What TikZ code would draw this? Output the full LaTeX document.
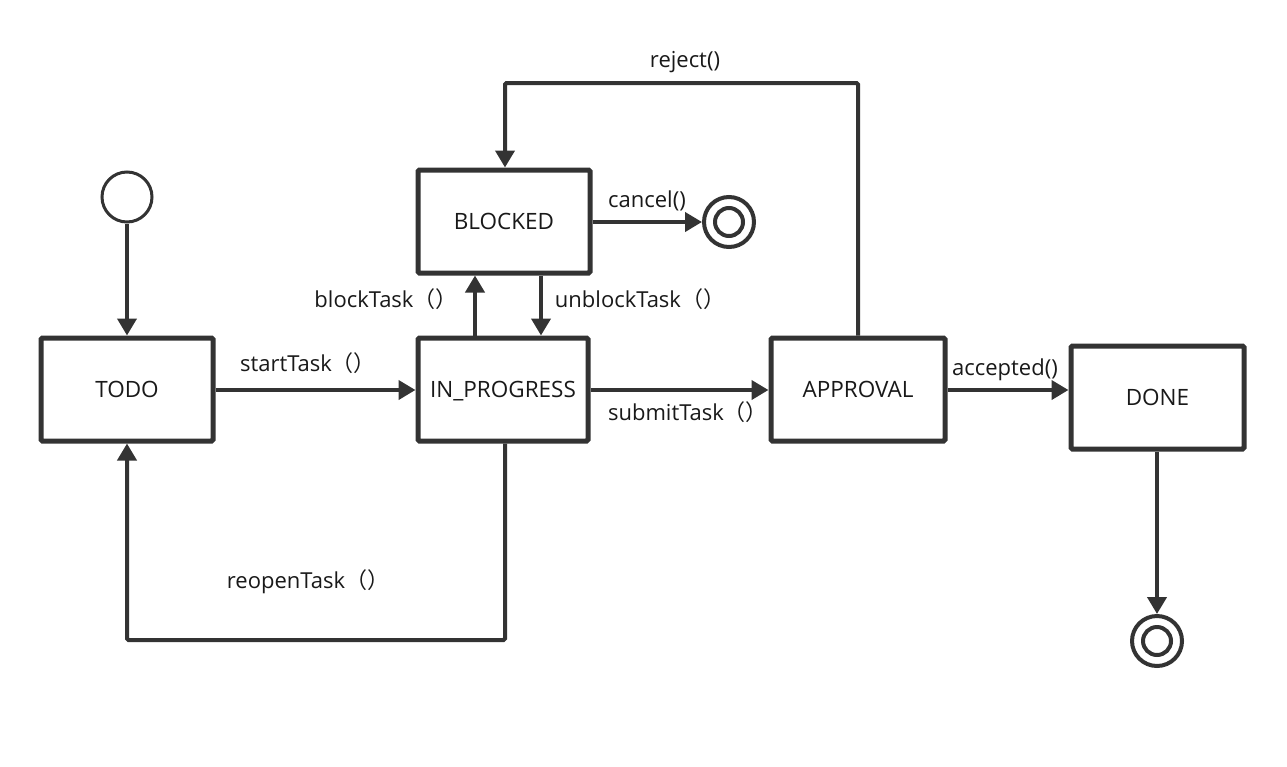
\documentclass[tikz,border=0pt]{standalone}
\usepackage{fontspec}
\setmainfont{Open Sans}
\newfontfamily\cjk{Noto Sans CJK SC}
\usetikzlibrary{arrows.meta}
\definecolor{ink}{HTML}{333333}
\newcommand{\fp}{{\cjk （）}}
\begin{document}
\begin{tikzpicture}[x=1pt,y=-1pt,
  state/.style={draw=ink,line width=5pt,rounded corners=1.5pt,minimum width=172pt,minimum height=103pt,inner sep=0pt,text depth=0pt,font=\fontsize{22.5}{26}\selectfont,text=black!90},
  initst/.style={circle,draw=ink,line width=3pt,minimum size=50pt,inner sep=0pt},
  finalst/.style={circle,draw=ink,line width=4pt,minimum size=50pt,inner sep=0pt,
     append after command={\pgfextra{\let\mynode\tikzlastnode}
       node[circle,draw=ink,line width=4pt,minimum size=28pt,inner sep=0pt] at (\mynode.center) {}}},
  conn/.style={draw=ink,line width=4pt,-{Triangle[length=17pt,width=19pt]}},
  lbl/.style={font=\fontsize{22}{26}\selectfont,text=black!90,inner sep=1pt}]
\useasboundingbox (0,0) rectangle (1287,766);
\fill[white] (0,0) rectangle (1287,766);

\node[initst] (init) at (127,197) {};
\node[state] (todo) at (127,389.5) {TODO};
\node[state,minimum width=170pt] (prog) at (503,389.5) {IN\_PROGRESS};
\node[state] (blocked) at (504,221.5) {BLOCKED};
\node[state,minimum width=174pt] (appr) at (858,389.5) {APPROVAL};
\node[state,minimum width=173pt] (done) at (1157.5,397.5) {DONE};
\node[finalst] (endc) at (729,222) {};
\node[finalst] (endd) at (1157,641) {};

\coordinate (rj1) at (858,83);
\coordinate (rj2) at (505,83);
\coordinate (ro1) at (505,640);
\coordinate (ro2) at (127,640);

\draw[conn] (init) -- (todo);
\draw[conn] (todo.east |- 0,390) -- (prog.west |- 0,390);
\draw[conn] (prog.north -| 475,0) -- (blocked.south -| 475,0);
\draw[conn] (blocked.south -| 541,0) -- (prog.north -| 541,0);
\draw[conn] (prog.east |- 0,390) -- (appr.west |- 0,390);
\draw[conn,rounded corners=1.5pt] (appr.north) -- (rj1) -- (rj2) -- (blocked.north -| rj2);
\draw[conn] (blocked.east |- 0,222) -- (endc);
\draw[conn] (appr.east |- 0,390) -- (done.west |- 0,390);
\draw[conn] (done.south -| endd) -- (endd);
\draw[conn,rounded corners=1.5pt] (prog.south -| ro1) -- (ro1) -- (ro2) -- (todo.south);

\node[lbl] (l1) at (308,363) {startTask\fp};
\node[lbl] (l2) at (386,299) {blockTask\fp};
\node[lbl] (l3) at (640,299) {unblockTask\fp};
\node[lbl] (l4) at (688,412) {submitTask\fp};
\node[lbl] (l5) at (685,62) {reject()};
\node[lbl] (l6) at (647,201) {cancel()};
\node[lbl] (l7) at (1005,370) {accepted()};
\node[lbl] (l8) at (308,582) {reopenTask\fp};
\end{tikzpicture}
\end{document}
